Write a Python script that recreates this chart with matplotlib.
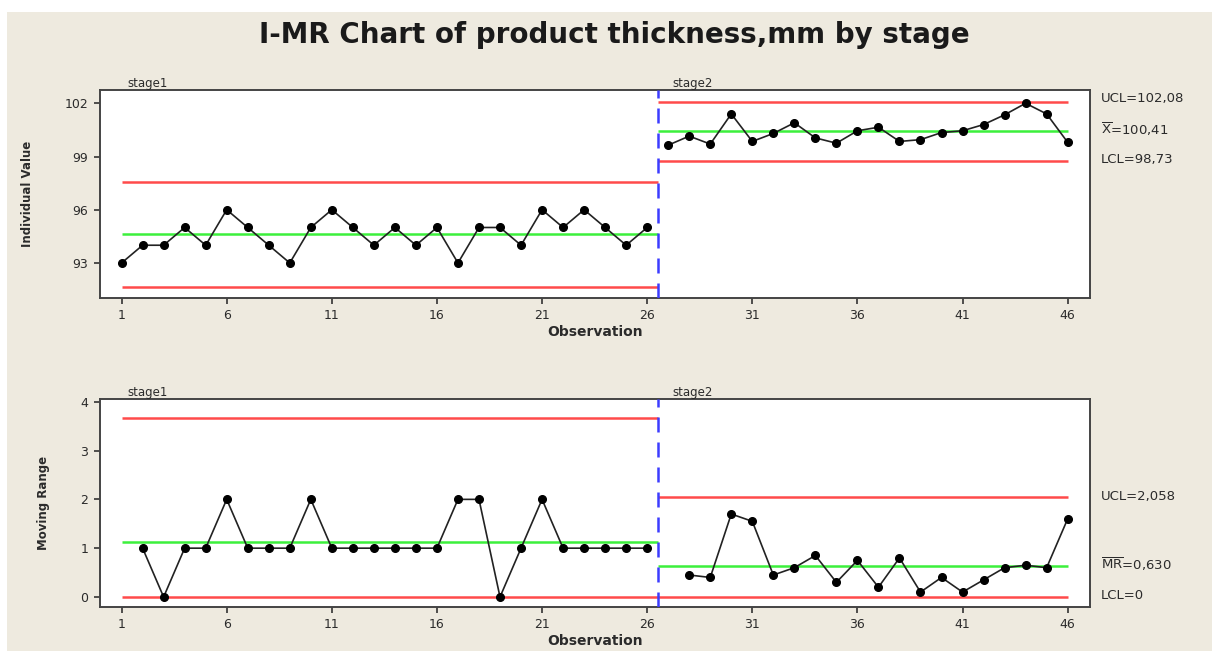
import matplotlib
matplotlib.use("Agg")
import matplotlib.pyplot as plt
from matplotlib.patches import Rectangle

# ── Data ────────────────────────────────────────────────────────────────────
obs_stage1 = list(range(1, 27))
obs_stage2 = list(range(27, 47))

ind_stage1 = [93, 94, 94, 95, 94, 96, 95, 94, 93, 95, 96, 95, 94,
              95, 94, 95, 93, 95, 95, 94, 96, 95, 96, 95, 94, 95]
ind_stage2 = [99.64, 100.15, 99.70, 101.40, 99.85, 100.30, 100.90, 100.05,
              99.75, 100.45, 100.65, 99.85, 99.95, 100.35, 100.45, 100.80,
              101.35, 102.00, 101.40, 99.80]

mr_obs_stage1 = list(range(2, 27))
mr_obs_stage2 = list(range(28, 47))
mr_stage1 = [1, 0, 1, 1, 2, 1, 1, 1, 2, 1, 1, 1, 1, 1, 1, 2, 2, 0, 1, 2,
             1, 1, 1, 1, 1]
mr_stage2 = [0.45, 0.40, 1.70, 1.55, 0.45, 0.60, 0.85, 0.30, 0.75, 0.20,
             0.80, 0.10, 0.40, 0.10, 0.35, 0.60, 0.65, 0.60, 1.60]

# control limits per stage: (LCL, centre, UCL)
ind_limits = [(91.64, 94.62, 97.59), (98.73, 100.41, 102.08)]
mr_limits = [(0, 1.12, 3.659), (0, 0.630, 2.058)]
stage_spans = [(1, 26.5), (26.5, 46)]
stage_names = ['stage1', 'stage2']
stage_label_x = [1.3, 27.2]
boundary = 26.5

ind_labels = ['UCL=102,08', r'$\overline{\mathrm{X}}$=100,41', 'LCL=98,73']
mr_labels = ['UCL=2,058', r'$\overline{\mathrm{MR}}$=0,630', 'LCL=0']

xticks = [1, 6, 11, 16, 21, 26, 31, 36, 41, 46]

# ── Styling ─────────────────────────────────────────────────────────────────
BG = '#EEEADF'
RED = '#FF4A4A'
GREEN = '#3CF03C'
BLUE = '#3C3CFF'
TXT = '#2B2B2B'

fig = plt.figure(figsize=(12.12, 6.51), dpi=100, facecolor='white')
fig.patches.append(Rectangle((7 / 1212, 0), 1 - 7 / 1212, 1 - 12 / 651,
                             transform=fig.transFigure, facecolor=BG,
                             edgecolor='none', zorder=-10))

fig.text(0.507, 0.947, 'I-MR Chart of product thickness,mm by stage',
         ha='center', va='center', fontsize=20, fontweight='bold', color='#1A1A1A')

ax1 = fig.add_axes([0.0821, 0.5418, 0.8172, 0.3200])
ax2 = fig.add_axes([0.0821, 0.0680, 0.8172, 0.3186])


def style_axes(ax, ylim, yticks, ylabel):
    ax.set_facecolor('white')
    ax.set_xlim(-0.05, 47.06)
    ax.set_ylim(*ylim)
    ax.set_xticks(xticks)
    ax.set_yticks(yticks)
    ax.tick_params(direction='out', length=4, width=1.2, color='#333333',
                   labelsize=9, labelcolor=TXT, pad=4)
    for sp in ax.spines.values():
        sp.set_color('#444444')
        sp.set_linewidth(1.4)
    ax.set_xlabel('Observation', fontsize=10, fontweight='bold', color=TXT, labelpad=2)
    ax.set_ylabel(ylabel, fontsize=8.5, fontweight='bold', color=TXT, labelpad=22)
    ax.axvline(boundary, color=BLUE, linestyle=(0, (6, 4)), linewidth=1.8, zorder=4)
    for name, lx in zip(stage_names, stage_label_x):
        ax.text(lx, ylim[1], name, ha='left', va='bottom', fontsize=8.5, color=TXT)


# ── Individual value chart ─────────────────────────────────────────────────
style_axes(ax1, (91.01, 102.75), [93, 96, 99, 102], 'Individual Value')
for (x0, x1), (lcl, cl, ucl) in zip(stage_spans, ind_limits):
    ax1.hlines([lcl, ucl], x0, x1, color=RED, linewidth=1.8, zorder=2)
    ax1.hlines(cl, x0, x1, color=GREEN, linewidth=1.8, zorder=2)
for xs, ys in [(obs_stage1, ind_stage1), (obs_stage2, ind_stage2)]:
    ax1.plot(xs, ys, color='#222222', linewidth=1.2, marker='o',
             markersize=5.5, markerfacecolor='black', markeredgecolor='black', zorder=5)
for lab, yv in zip(ind_labels, [102.25, 100.55, 98.85]):
    ax1.text(1.011, yv, lab, transform=ax1.get_yaxis_transform(), ha='left',
             va='center', fontsize=9.5, color=TXT, clip_on=False)

# ── Moving range chart ─────────────────────────────────────────────────────
style_axes(ax2, (-0.2, 4.05), [0, 1, 2, 3, 4], 'Moving Range')
for (x0, x1), (lcl, cl, ucl) in zip(stage_spans, mr_limits):
    ax2.hlines([lcl, ucl], x0, x1, color=RED, linewidth=1.8, zorder=2)
    ax2.hlines(cl, x0, x1, color=GREEN, linewidth=1.8, zorder=2)
for xs, ys in [(mr_obs_stage1, mr_stage1), (mr_obs_stage2, mr_stage2)]:
    ax2.plot(xs, ys, color='#222222', linewidth=1.2, marker='o',
             markersize=5.5, markerfacecolor='black', markeredgecolor='black', zorder=5)
for lab, yv in zip(mr_labels, [2.058, 0.66, 0.02]):
    ax2.text(1.011, yv, lab, transform=ax2.get_yaxis_transform(), ha='left',
             va='center', fontsize=9.5, color=TXT, clip_on=False)

fig.savefig('out.png', dpi=100, facecolor=fig.get_facecolor())
